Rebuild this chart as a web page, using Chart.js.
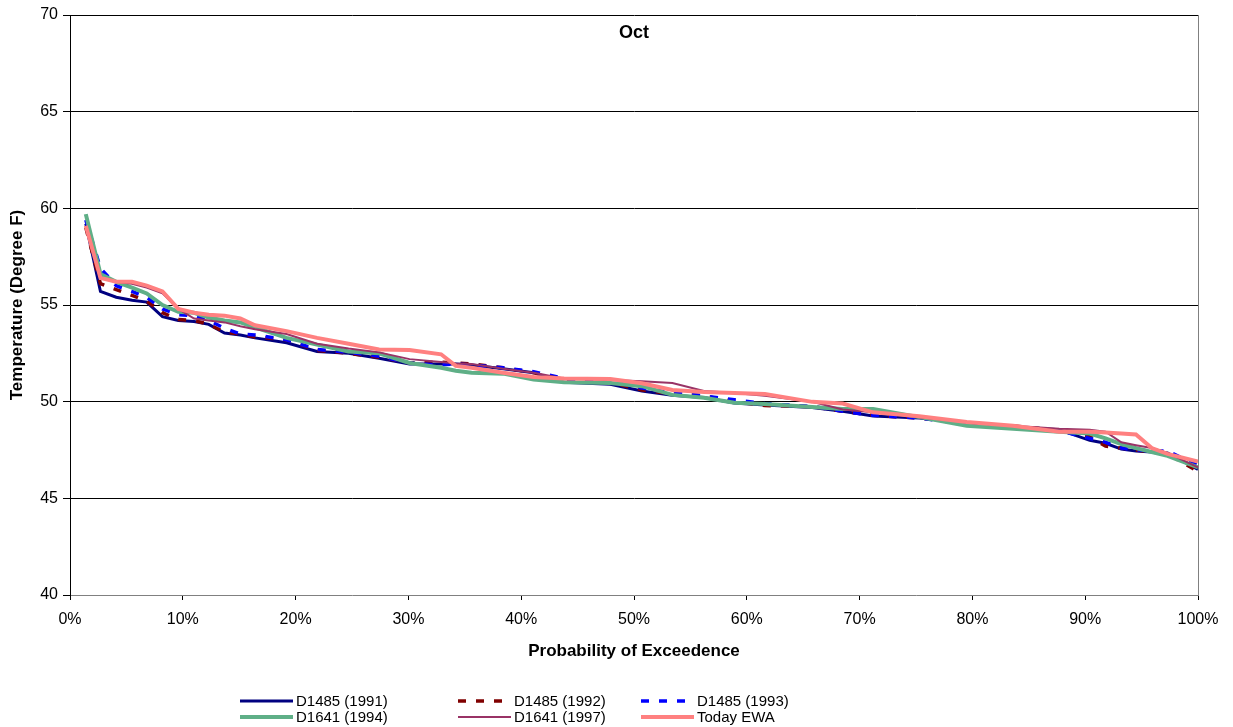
<!DOCTYPE html>
<html>
<head>
<meta charset="utf-8">
<script src="https://cdn.jsdelivr.net/npm/chart.js@4.4.1/dist/chart.umd.min.js"></script>
<style>
  html, body { margin: 0; padding: 0; background: #fff; }
  #wrap { position: relative; width: 1233px; height: 727px; }
  #c { position: absolute; left: 0; top: 0; }
  #legend { position: absolute; left: 0; top: 0; width: 1233px; height: 727px; pointer-events: none;
            font-family: "Liberation Sans", Arial, sans-serif; font-size: 15px; color: #000; }
  .item { position: absolute; height: 16px; line-height: 16px; white-space: nowrap; }
  .item svg { position: absolute; left: 0; top: 0; }
  .item span { position: absolute; top: 0; }
</style>
</head>
<body>
<div id="wrap">
  <canvas id="c" width="1233" height="727"></canvas>
  <div id="legend"></div>
</div>
<script>
// ---- Data ----
const chartTitle = "Oct";
const xAxisTitle = "Probability of Exceedence";
const yAxisTitle = "Temperature (Degree F)";
const xTicks = [0, 10, 20, 30, 40, 50, 60, 70, 80, 90, 100];
const yTicks = [40, 45, 50, 55, 60, 65, 70];

const probs = [1.4, 2.7, 4.1, 5.5, 6.8, 8.2, 9.6, 11, 12.3, 13.7, 15.1, 16.4, 19.2, 21.9, 24.7, 27.4, 30.1, 32.9, 34.2, 35.6, 38.4, 41.1, 43.8, 47.9, 50.7, 53.4, 56.2, 58.9, 61.6, 65.8, 68.5, 71.2, 75.3, 79.5, 83.6, 87.7, 90.4, 91.8, 93.2, 94.5, 95.9, 97.3, 100];

const seriesNames = ["D1485 (1991)", "D1485 (1992)", "D1485 (1993)", "D1641 (1994)", "D1641 (1997)", "Today EWA"];

const d1485_1991 = [59.2, 55.7, 55.4, 55.25, 55.15, 54.4, 54.2, 54.15, 54.0, 53.55, 53.45, 53.3, 53.05, 52.6, 52.5, 52.25, 51.95, 51.95, 51.95, 51.9, 51.7, 51.5, 51.0, 50.9, 50.55, 50.33, 50.22, 49.93, 49.83, 49.7, 49.5, 49.26, 49.15, 48.9, 48.7, 48.55, 48.0, 47.85, 47.55, 47.45, 47.4, 47.35, 46.5];
const d1485_1992 = [59.0, 56.1, 55.8, 55.5, 55.2, 54.6, 54.25, 54.2, 54.0, 53.6, 53.5, 53.35, 53.2, 52.65, 52.5, 52.3, 52.0, 52.05, 52.0, 51.95, 51.75, 51.5, 51.1, 51.0, 50.6, 50.4, 50.3, 50.0, 49.8, 49.75, 49.5, 49.3, 49.15, 48.9, 48.75, 48.5, 48.2, 47.7, 47.6, 47.5, 47.4, 47.3, 46.4];
const d1485_1993 = [59.4, 56.9, 56.0, 55.7, 55.4, 54.8, 54.5, 54.45, 54.2, 53.8, 53.5, 53.45, 53.2, 52.7, 52.55, 52.35, 52.0, 51.9, 51.95, 51.9, 51.75, 51.55, 51.2, 51.05, 50.7, 50.45, 50.3, 50.1, 49.9, 49.75, 49.5, 49.3, 49.15, 48.85, 48.7, 48.5, 48.1, 47.9, 47.6, 47.5, 47.45, 47.45, 46.7];
const d1641_1994 = [59.7, 56.6, 56.2, 55.9, 55.6, 55.0, 54.65, 54.6, 54.35, 54.2, 54.1, 53.85, 53.3, 52.95, 52.6, 52.5, 52.0, 51.75, 51.6, 51.5, 51.45, 51.15, 51.0, 50.97, 50.8, 50.35, 50.2, 49.95, 49.88, 49.72, 49.62, 49.62, 49.2, 48.75, 48.6, 48.45, 48.35, 48.1, 47.8, 47.6, 47.4, 47.2, 46.6];
const d1641_1997 = [59.0, 56.4, 56.2, 56.1, 55.9, 55.6, 54.8, 54.3, 54.2, 54.1, 53.9, 53.75, 53.5, 53.0, 52.75, 52.55, 52.2, 52.05, 51.98, 51.95, 51.7, 51.5, 51.2, 51.12, 51.05, 50.97, 50.55, 50.45, 50.3, 50.0, 49.6, 49.45, 49.2, 48.95, 48.75, 48.6, 48.55, 48.45, 47.9, 47.75, 47.6, 47.35, 46.6];
const todayEWA   = [59.1, 56.4, 56.2, 56.2, 56.0, 55.7, 54.8, 54.6, 54.5, 54.45, 54.3, 53.95, 53.65, 53.3, 53.0, 52.7, 52.67, 52.45, 51.85, 51.75, 51.5, 51.28, 51.2, 51.17, 50.95, 50.6, 50.5, 50.45, 50.4, 49.99, 49.9, 49.45, 49.25, 48.95, 48.75, 48.45, 48.45, 48.4, 48.35, 48.3, 47.6, 47.3, 46.9];

// ---- Styles ----
const seriesValues = [d1485_1991, d1485_1992, d1485_1993, d1641_1994, d1641_1997, todayEWA];
const seriesStyles = [
  { color: "#000080", width: 3,   dash: [] },
  { color: "#800000", width: 3.5, dash: [8, 10] },
  { color: "#0000FF", width: 3.5, dash: [8, 10] },
  { color: "#5FAF87", width: 4,   dash: [] },
  { color: "#993366", width: 2,   dash: [] },
  { color: "#FF8080", width: 4,   dash: [] }
];

const FONT = "'Liberation Sans', Arial, sans-serif";

const datasets = seriesValues.map((vals, i) => ({
  label: seriesNames[i],
  data: probs.map((p, k) => ({ x: p, y: vals[k] })),
  borderColor: seriesStyles[i].color,
  backgroundColor: seriesStyles[i].color,
  borderWidth: seriesStyles[i].width,
  borderDash: seriesStyles[i].dash,
  pointRadius: 0,
  tension: 0,
  fill: false,
  order: seriesValues.length - i
}));

const innerTitle = {
  id: 'innerTitle',
  afterDraw(chart) {
    const { ctx, chartArea } = chart;
    ctx.save();
    ctx.font = "bold 18px " + FONT;
    ctx.fillStyle = "#000";
    ctx.textAlign = "center";
    ctx.textBaseline = "middle";
    ctx.fillText(chartTitle, (chartArea.left + chartArea.right) / 2, chartArea.top + 18);
    ctx.restore();
  }
};

new Chart(document.getElementById('c'), {
  type: 'line',
  data: { datasets },
  plugins: [innerTitle],
  options: {
    responsive: false,
    animation: false,
    devicePixelRatio: 1,
    layout: { padding: { left: 0, right: 35, top: 15, bottom: 52 } },
    plugins: { legend: { display: false }, tooltip: { enabled: false }, title: { display: false } },
    scales: {
      x: {
        type: 'linear',
        min: 0, max: 100,
        afterBuildTicks: (s) => { s.ticks = xTicks.map(v => ({ value: v })); },
        afterFit: (s) => { s.height = 80; },
        ticks: {
          callback: (v) => v + '%',
          font: { family: FONT, size: 16 },
          color: '#000',
          padding: 10,
          maxRotation: 0,
          autoSkip: false
        },
        grid: {
          color: (ctx) => (ctx.tick && ctx.tick.value === 100) ? '#808080' : 'rgba(0,0,0,0)',
          tickColor: '#000',
          tickLength: 5,
          drawOnChartArea: true
        },
        border: { color: '#808080', width: 1 },
        title: {
          display: true,
          text: xAxisTitle,
          font: { family: FONT, size: 17, weight: 'bold' },
          color: '#000',
          padding: { top: 0, bottom: 13 }
        }
      },
      y: {
        type: 'linear',
        min: 40, max: 70,
        afterBuildTicks: (s) => { s.ticks = yTicks.map(v => ({ value: v })); },
        afterFit: (s) => { s.width = 70; },
        ticks: {
          font: { family: FONT, size: 16 },
          color: '#000',
          padding: 5
        },
        grid: {
          color: (ctx) => (ctx.tick && ctx.tick.value === 40) ? 'rgba(0,0,0,0)' : '#000',
          tickColor: '#000',
          tickLength: 7,
          lineWidth: 1
        },
        border: { color: '#000', width: 1 },
        title: {
          display: true,
          text: yAxisTitle,
          font: { family: FONT, size: 17, weight: 'bold' },
          color: '#000',
          padding: { top: 7, bottom: 0 }
        }
      }
    }
  }
});

// ---- HTML legend (3 columns x 2 rows) ----
const legendCols = [240, 458, 641];
const legendRows = [693, 709];
const legendEl = document.getElementById('legend');
seriesNames.forEach((name, i) => {
  const col = i % 3, row = Math.floor(i / 3);
  const st = seriesStyles[i];
  const lineLen = 53;
  const div = document.createElement('div');
  div.className = 'item';
  div.style.left = legendCols[col] + 'px';
  div.style.top = legendRows[row] + 'px';
  div.style.width = '200px';
  const dashAttr = st.dash.length ? ` stroke-dasharray="${st.dash.join(',')}"` : '';
  div.innerHTML = `<svg width="${lineLen}" height="16"><line x1="0" y1="8" x2="${lineLen}" y2="8" stroke="${st.color}" stroke-width="${st.width}"${dashAttr} stroke-linecap="${st.dash.length ? 'butt' : 'round'}"/></svg><span style="left:${lineLen + 3}px">${name}</span>`;
  legendEl.appendChild(div);
});
</script>
</body>
</html>
